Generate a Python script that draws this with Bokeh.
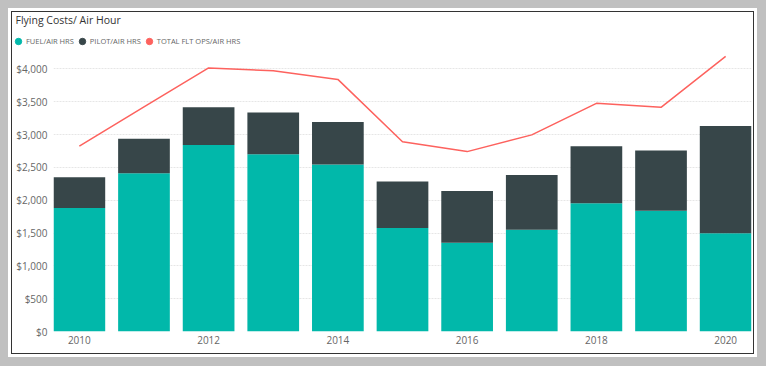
from bokeh.plotting import figure
from bokeh.models import (NumeralTickFormatter, FixedTicker, Legend, LegendItem,
                          Range1d, Label)
from bokeh.layouts import column
from bokeh.embed import file_html
from bokeh.resources import INLINE
from jinja2 import Template

# ---- data ----
years = [2010, 2011, 2012, 2013, 2014, 2015, 2016, 2017, 2018, 2019, 2020]
fuel = [1880, 2410, 2840, 2700, 2545, 1575, 1350, 1550, 1955, 1840, 1495]
pilot = [470, 525, 575, 635, 645, 710, 790, 835, 865, 915, 1635]
total_ops = [2825, 3420, 4015, 3970, 3840, 2890, 2740, 2995, 3475, 3415, 4190]
x_ticks = [2010, 2012, 2014, 2016, 2018, 2020]
y_ticks = [0, 500, 1000, 1500, 2000, 2500, 3000, 3500, 4000]

title_text = "Flying Costs/ Air Hour"
labels = ["FUEL/AIR HRS", "PILOT/AIR HRS", "TOTAL FLT OPS/AIR HRS"]
colors = ["#01B8AA", "#374649", "#FD625E"]

FONT = "Open Sans"

fuel_top = [f + p_ for f, p_ in zip(fuel, pilot)]

# ---- header (title + legend) ----
h = figure(width=741, height=38, output_backend="svg", toolbar_location=None,
           x_range=Range1d(0, 1), y_range=Range1d(0, 1),
           x_axis_type=None, y_axis_type=None, min_border=0)
h.frame_align = False
h.border_fill_color = "white"
h.background_fill_color = "white"
h.outline_line_color = None
h.grid.visible = False

nan = float("nan")
lr = [h.scatter(x=[nan], y=[nan], marker="circle", fill_color=c, line_color=c)
      for c in colors]
legend = Legend(items=[LegendItem(label=l, renderers=[r]) for l, r in zip(labels, lr)],
                orientation="horizontal", location=(-2, 1))
legend.glyph_width = 16
legend.glyph_height = 16
legend.label_height = 16
legend.label_standoff = -2
legend.spacing = -8
legend.padding = 0
legend.margin = 0
legend.border_line_alpha = 0
legend.background_fill_alpha = 0
legend.label_text_font = FONT
legend.label_text_font_size = "7.5px"
legend.label_text_color = "#666666"
h.add_layout(legend)

h.add_layout(Label(x=3, y=31, x_units="screen", y_units="screen", text=title_text,
                   text_font=FONT, text_font_size="10.5px", text_color="#333333",
                   text_baseline="middle", text_align="left"))

# ---- main chart ----
p = figure(width=741, height=303, output_backend="svg", toolbar_location=None,
           x_range=Range1d(2009.6, 2020.4), y_range=Range1d(0, 4280),
           min_border_left=41, min_border_right=2, min_border_bottom=22,
           min_border_top=0)
p.frame_align = False
p.border_fill_color = "white"
p.background_fill_color = "white"
p.outline_line_color = None

p.vbar(x=years, top=fuel, bottom=0, width=0.8, fill_color=colors[0], line_color=None)
p.vbar(x=years, top=fuel_top, bottom=fuel, width=0.8, fill_color=colors[1], line_color=None)
p.line(x=years, y=total_ops, line_color=colors[2], line_width=1.5)

p.xaxis.ticker = FixedTicker(ticks=x_ticks)
p.xaxis.axis_line_color = None
p.xaxis.major_tick_line_color = None
p.xaxis.minor_tick_line_color = None
p.xaxis.major_tick_out = 0
p.xaxis.major_tick_in = 0
p.xaxis.major_label_text_font = FONT
p.xaxis.major_label_text_font_size = "10px"
p.xaxis.major_label_text_color = "#666666"
p.xaxis.major_label_standoff = 4

p.yaxis.ticker = FixedTicker(ticks=y_ticks)
p.yaxis.formatter = NumeralTickFormatter(format="$0,0")
p.yaxis.axis_line_color = None
p.yaxis.major_tick_line_color = None
p.yaxis.minor_tick_line_color = None
p.yaxis.major_tick_out = 0
p.yaxis.major_tick_in = 0
p.yaxis.major_label_text_font = FONT
p.yaxis.major_label_text_font_size = "10px"
p.yaxis.major_label_text_color = "#666666"
p.yaxis.major_label_standoff = 6

p.xgrid.grid_line_color = None
p.ygrid.ticker = FixedTicker(ticks=y_ticks)
p.ygrid.grid_line_color = "#e6e6e6"
p.ygrid.grid_line_dash = "2 1"

inner = column(h, p, spacing=0, margin=(4, 4, 4, 4),
               styles={"outline": "1px solid #333333"})
layout = column(inner, styles={"background-color": "white"})

tmpl = Template("""{% extends base %}
{% block preamble %}<style>html { background-color: #c0c0c0 !important; } body { background-color: #c0c0c0 !important; margin: 8px !important; }</style>{% endblock %}""")

open("out.html", "w").write(file_html(layout, INLINE, template=tmpl))
